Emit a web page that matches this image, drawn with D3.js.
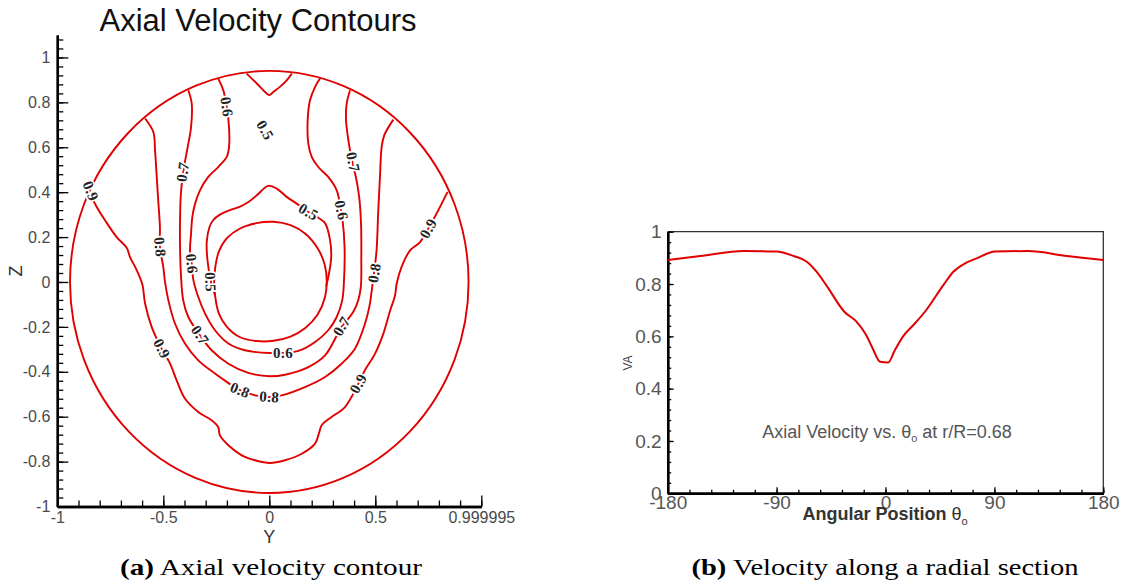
<!DOCTYPE html>
<html>
<head>
<meta charset="utf-8">
<script src="https://cdn.jsdelivr.net/npm/d3@7"></script>
<style>
  body { margin: 0; background: #fff; }
  svg { display: block; }
</style>
</head>
<body>
<script>
// ---------- panel (a): contour lines as [Y, Z] points
const outerRadius = 0.94

const contour09 = [
  [-0.854, 0.408], [-0.814, 0.334], [-0.775, 0.275], [-0.720, 0.200], [-0.673, 0.153],
  [-0.657, 0.111], [-0.625, 0.052], [-0.599, -0.010], [-0.586, -0.096], [-0.555, -0.200],
  [-0.508, -0.297], [-0.468, -0.364], [-0.437, -0.438], [-0.398, -0.519], [-0.335, -0.579],
  [-0.272, -0.616], [-0.241, -0.646], [-0.233, -0.683], [-0.193, -0.727], [-0.130, -0.772],
  [-0.067, -0.794], [0.003, -0.806], [0.074, -0.794], [0.153, -0.765], [0.216, -0.720],
  [0.234, -0.675], [0.247, -0.638], [0.294, -0.601], [0.357, -0.557], [0.420, -0.453],
  [0.451, -0.393], [0.499, -0.319], [0.538, -0.230], [0.569, -0.130], [0.593, -0.060],
  [0.601, -0.007], [0.624, 0.067], [0.664, 0.141], [0.711, 0.178], [0.750, 0.238],
  [0.797, 0.319], [0.841, 0.401]
]

const contour08 = [
  [-0.586, 0.728], [-0.547, 0.668], [-0.539, 0.587], [-0.531, 0.468], [-0.524, 0.364],
  [-0.516, 0.245], [-0.516, 0.156], [-0.500, 0.067], [-0.492, 0.000], [-0.476, -0.082],
  [-0.445, -0.185], [-0.398, -0.274], [-0.335, -0.349], [-0.256, -0.408], [-0.201, -0.445],
  [-0.138, -0.482], [-0.067, -0.505], [0.000, -0.512], [0.058, -0.505], [0.168, -0.468],
  [0.263, -0.423], [0.341, -0.364], [0.404, -0.297], [0.450, -0.190], [0.472, -0.110],
  [0.483, -0.040], [0.494, 0.040], [0.506, 0.141], [0.514, 0.319], [0.522, 0.468],
  [0.530, 0.601], [0.542, 0.653], [0.585, 0.723]
]

const contour07 = [
  [-0.382, 0.854], [-0.366, 0.795], [-0.369, 0.690], [-0.382, 0.616], [-0.406, 0.490],
  [-0.417, 0.394], [-0.421, 0.275], [-0.421, 0.156], [-0.417, 0.037], [-0.406, -0.082],
  [-0.382, -0.156], [-0.327, -0.237], [-0.272, -0.304], [-0.193, -0.364], [-0.099, -0.405],
  [0.003, -0.420], [0.074, -0.413], [0.184, -0.379], [0.263, -0.327], [0.341, -0.200],
  [0.395, -0.135], [0.420, -0.080], [0.432, -0.020], [0.434, 0.100], [0.433, 0.250],
  [0.425, 0.370], [0.412, 0.450], [0.392, 0.534], [0.373, 0.631], [0.362, 0.720],
  [0.365, 0.795], [0.381, 0.854]
]

const contour06 = [
  [-0.241, 0.906], [-0.217, 0.854], [-0.201, 0.780], [-0.190, 0.690], [-0.190, 0.601],
  [-0.201, 0.557], [-0.241, 0.512], [-0.288, 0.468], [-0.327, 0.408], [-0.350, 0.349],
  [-0.363, 0.290], [-0.369, 0.216], [-0.374, 0.141], [-0.366, 0.082], [-0.358, 0.008],
  [-0.335, -0.067], [-0.303, -0.141], [-0.256, -0.215], [-0.193, -0.274], [-0.115, -0.304],
  [0.003, -0.316], [0.137, -0.307], [0.216, -0.267], [0.278, -0.215], [0.318, -0.156],
  [0.344, -0.082], [0.352, 0.000], [0.355, 0.156], [0.345, 0.280], [0.338, 0.319],
  [0.318, 0.408], [0.278, 0.468], [0.231, 0.512], [0.200, 0.557], [0.184, 0.616],
  [0.181, 0.720], [0.192, 0.809], [0.216, 0.869], [0.239, 0.906]
]

const contour05Top = [
  [-0.107, 0.928], [-0.059, 0.884], [-0.020, 0.846], [0.000, 0.832], [0.019, 0.846],
  [0.050, 0.869], [0.082, 0.898], [0.106, 0.928]
]

const contour05Inner = [
  [-0.256, -0.059], [-0.275, 0.000], [-0.292, 0.100], [-0.295, 0.180], [-0.282, 0.245],
  [-0.264, 0.276], [-0.233, 0.300], [-0.185, 0.320], [-0.140, 0.335], [-0.100, 0.355],
  [-0.059, 0.386], [-0.005, 0.428], [0.035, 0.416], [0.082, 0.379], [0.129, 0.349],
  [0.184, 0.312], [0.231, 0.286], [0.263, 0.262], [0.286, 0.190], [0.292, 0.110],
  [0.280, 0.030], [0.268, -0.020]
]

const hubContour = [
  [-0.255, -0.065], [-0.238, -0.140], [-0.200, -0.200], [-0.140, -0.245], [-0.060, -0.263],
  [0.020, -0.262], [0.100, -0.243], [0.170, -0.205], [0.228, -0.145], [0.262, -0.070],
  [0.271, 0.000], [0.262, 0.075], [0.228, 0.150], [0.170, 0.215], [0.100, 0.253],
  [0.020, 0.268], [-0.060, 0.262], [-0.140, 0.237], [-0.200, 0.195], [-0.238, 0.135],
  [-0.255, 0.065], [-0.260, 0.000]
]

// [text, Y, Z, angle along the line]
const contourLabels = [
  ['0.9', -0.843, 0.405, 67], ['0.8', -0.516, 0.156, 85], ['0.7', -0.408, 0.490, -82],
  ['0.6', -0.201, 0.780, 81], ['0.5', -0.020, 0.676, 60], ['0.6', -0.366, 0.082, 84],
  ['0.5', -0.278, 0.000, 88], ['0.5', 0.184, 0.312, 30], ['0.6', 0.340, 0.319, 79],
  ['0.7', 0.394, 0.534, 78], ['0.8', 0.496, 0.040, -81], ['0.9', 0.750, 0.238, -61],
  ['0.9', -0.508, -0.297, 63], ['0.7', -0.327, -0.237, 55], ['0.8', -0.138, -0.482, 22],
  ['0.8', 0.000, -0.512, 4], ['0.6', 0.065, -0.318, 0], ['0.7', 0.341, -0.197, -60],
  ['0.9', 0.420, -0.453, -61]
]

const yTicks = [-1, -0.5, 0, 0.5, 1]
const yTickLabels = ['-1', '-0.5', '0', '0.5', '0.999995']
const zTicks = [-1, -0.8, -0.6, -0.4, -0.2, 0, 0.2, 0.4, 0.6, 0.8, 1]

// ---------- panel (b): axial velocity along the r/R = 0.68 circle
const theta = [
  -180, -153, -117, -90, -76, -65, -57, -49, -34, -24, -16, -10, -4.5,
  2.3, 7.8, 14.7, 24.4, 32.6, 47.8, 56.1, 65.7, 75.3, 90.5, 118, 150, 180
]
const axialVelocity = [
  0.892, 0.907, 0.926, 0.924, 0.907, 0.885, 0.847, 0.796, 0.694, 0.656, 0.605, 0.548, 0.503,
  0.500, 0.548, 0.601, 0.650, 0.694, 0.796, 0.847, 0.879, 0.898, 0.924, 0.926, 0.907, 0.892
]
const thetaTicks = [-180, -90, 0, 90, 180]
const velocityTicks = [0, 0.2, 0.4, 0.6, 0.8, 1]

const red = '#e00000'
const grey = '#4a4a4a'

const svg = d3.select('body').append('svg')
  .attr('width', 1141)
  .attr('height', 585)
  .attr('viewBox', [0, 0, 1141, 585])

const styleAxis = (g, size, color) => {
  g.attr('font-family', 'Liberation Sans, Arial, sans-serif').attr('font-size', size)
  g.selectAll('text').attr('fill', color)
  g.selectAll('line').attr('stroke', '#000').attr('stroke-width', 1.3)
  g.select('.domain').attr('stroke', '#000').attr('stroke-width', 2.4)
}

// ================= panel (a)
const yA = d3.scaleLinear().domain([-1, 1]).range([57.3, 481.3])
const zA = d3.scaleLinear().domain([-1, 1.1]).range([506.5, 35])
const gA = svg.append('g')

gA.append('text')
  .attr('x', 258).attr('y', 31)
  .attr('text-anchor', 'middle')
  .attr('font-family', 'Liberation Sans, Arial, sans-serif')
  .attr('font-size', 31)
  .attr('fill', '#111')
  .text('Axial Velocity Contours')

gA.append('g')
  .attr('transform', `translate(${yA(-1)},0)`)
  .call(d3.axisLeft(zA).tickValues(d3.range(-25, 28).map(i => i * 0.04)).tickSize(-6).tickSizeOuter(0).tickFormat(''))
  .call(g => styleAxis(g, 16, grey))

gA.append('g')
  .attr('transform', `translate(${yA(-1)},0)`)
  .call(d3.axisLeft(zA).tickValues(zTicks).tickSize(-11).tickSizeOuter(0).tickPadding(7)
    .tickFormat(d => String(+d.toFixed(2))))
  .call(g => styleAxis(g, 16, grey))

gA.append('g')
  .attr('transform', `translate(0,${zA(-1)})`)
  .call(d3.axisBottom(yA).tickValues(d3.range(-10, 11).map(i => i / 10)).tickSize(-6).tickSizeOuter(0).tickFormat(''))
  .call(g => styleAxis(g, 16, grey))

gA.append('g')
  .attr('transform', `translate(0,${zA(-1)})`)
  .call(d3.axisBottom(yA).tickValues(yTicks).tickSize(-11).tickSizeOuter(0).tickPadding(5)
    .tickFormat((d, i) => yTickLabels[i]))
  .call(g => styleAxis(g, 16, grey))

gA.append('text')
  .attr('x', yA(0)).attr('y', 543)
  .attr('text-anchor', 'middle')
  .attr('font-family', 'Liberation Sans, Arial, sans-serif')
  .attr('font-size', 18).attr('fill', '#333')
  .text('Y')

gA.append('text')
  .attr('transform', 'translate(21.5,271) rotate(-90)')
  .attr('text-anchor', 'middle')
  .attr('font-family', 'Liberation Sans, Arial, sans-serif')
  .attr('font-size', 18).attr('fill', '#333')
  .text('Z')

const contourLine = d3.line()
  .x(d => yA(d[0]))
  .y(d => zA(d[1]))
  .curve(d3.curveCatmullRom.alpha(0.5))

const lines = gA.append('g')
  .attr('fill', 'none')
  .attr('stroke', red)
  .attr('stroke-width', 1.9)
  .attr('stroke-linejoin', 'round')

lines.append('ellipse')
  .attr('cx', yA(0))
  .attr('cy', zA(0))
  .attr('rx', yA(outerRadius) - yA(0))
  .attr('ry', zA(0) - zA(outerRadius))

lines.selectAll('path.contour')
  .data([contour09, contour08, contour07, contour06, contour05Top, contour05Inner])
  .join('path')
    .attr('class', 'contour')
    .attr('d', contourLine)

lines.append('path')
  .attr('d', d3.line().x(d => yA(d[0])).y(d => zA(d[1])).curve(d3.curveCatmullRomClosed.alpha(0.5))(hubContour))

gA.append('g')
  .selectAll('text')
  .data(contourLabels)
  .join('text')
    .attr('transform', d => `translate(${yA(d[1])},${zA(d[2])}) rotate(${d[3]})`)
    .attr('text-anchor', 'middle')
    .attr('dy', '0.33em')
    .attr('font-family', 'Liberation Serif, Times New Roman, serif')
    .attr('font-weight', 'bold')
    .attr('font-size', 15)
    .attr('letter-spacing', 0.4)
    .attr('fill', '#222')
    .attr('stroke', '#fff')
    .attr('stroke-width', 3.5)
    .attr('paint-order', 'stroke')
    .text(d => d[0])

// ================= panel (b)
const xB = d3.scaleLinear().domain([-180, 180]).range([667.7, 1103.3])
const yB = d3.scaleLinear().domain([0, 1]).range([493.3, 231.7])
const gB = svg.append('g')

gB.append('path')
  .attr('fill', 'none')
  .attr('stroke', '#333')
  .attr('stroke-width', 1.3)
  .attr('d', `M${xB(-180)},${yB(1)}H${xB(180)}V${yB(0)}`)

gB.append('g')
  .attr('transform', `translate(${xB(-180)},0)`)
  .call(d3.axisLeft(yB).tickValues(d3.range(0, 26).map(i => i * 0.04)).tickSize(-3.5).tickSizeOuter(0).tickFormat(''))
  .call(g => styleAxis(g, 19, '#555'))

gB.append('g')
  .attr('transform', `translate(${xB(-180)},0)`)
  .call(d3.axisLeft(yB).tickValues(velocityTicks).tickSize(-6).tickSizeOuter(0).tickPadding(6)
    .tickFormat(d => String(+d.toFixed(2))))
  .call(g => styleAxis(g, 19, '#555'))

gB.append('g')
  .attr('transform', `translate(0,${yB(0)})`)
  .call(d3.axisBottom(xB).tickValues(d3.range(-180, 181, 18)).tickSize(-3.5).tickSizeOuter(0).tickFormat(''))
  .call(g => styleAxis(g, 19, '#555'))

gB.append('g')
  .attr('transform', `translate(0,${yB(0)})`)
  .call(d3.axisBottom(xB).tickValues(thetaTicks).tickSize(-6).tickSizeOuter(0).tickPadding(2)
    .tickFormat(d => String(d)))
  .call(g => styleAxis(g, 19, '#555'))

gB.append('path')
  .datum(d3.zip(theta, axialVelocity))
  .attr('fill', 'none')
  .attr('stroke', red)
  .attr('stroke-width', 2)
  .attr('stroke-linejoin', 'round')
  .attr('d', d3.line().x(d => xB(d[0])).y(d => yB(d[1])).curve(d3.curveMonotoneX))

const note = gB.append('text')
  .attr('x', 887).attr('y', 438)
  .attr('text-anchor', 'middle')
  .attr('font-family', 'Liberation Sans, Arial, sans-serif')
  .attr('font-size', 18)
  .attr('fill', '#555')
note.append('tspan').text('Axial Velocity vs. θ')
note.append('tspan').attr('font-size', 11).attr('dy', 4).text('o')
note.append('tspan').attr('dy', -4).text(' at r/R=0.68')

const xTitle = gB.append('text')
  .attr('x', 885).attr('y', 520)
  .attr('text-anchor', 'middle')
  .attr('font-family', 'Liberation Sans, Arial, sans-serif')
  .attr('font-weight', 'bold')
  .attr('font-size', 18)
  .attr('fill', '#333')
xTitle.append('tspan').text('Angular Position ')
xTitle.append('tspan').attr('font-weight', 'normal').text('θ')
xTitle.append('tspan').attr('font-weight', 'normal').attr('font-size', 11).attr('dy', 5).text('o')

gB.append('text')
  .attr('transform', 'translate(632,363) rotate(-90)')
  .attr('text-anchor', 'middle')
  .attr('font-family', 'Liberation Sans, Arial, sans-serif')
  .attr('font-size', 12)
  .attr('fill', '#444')
  .text('VA')

// ================= captions
const caption = (x, tag, rest, len) => {
  const t = svg.append('text')
    .attr('x', x).attr('y', 575)
    .attr('text-anchor', 'middle')
    .attr('font-family', 'Liberation Serif, Times New Roman, serif')
    .attr('font-size', 24)
    .attr('fill', '#000')
    .attr('textLength', len)
    .attr('lengthAdjust', 'spacingAndGlyphs')
  t.append('tspan').attr('font-weight', 'bold').text(tag)
  t.append('tspan').text(' ' + rest)
}
caption(271, '(a)', 'Axial velocity contour', 302)
caption(885, '(b)', 'Velocity along a radial section', 387)
</script>
</body>
</html>
